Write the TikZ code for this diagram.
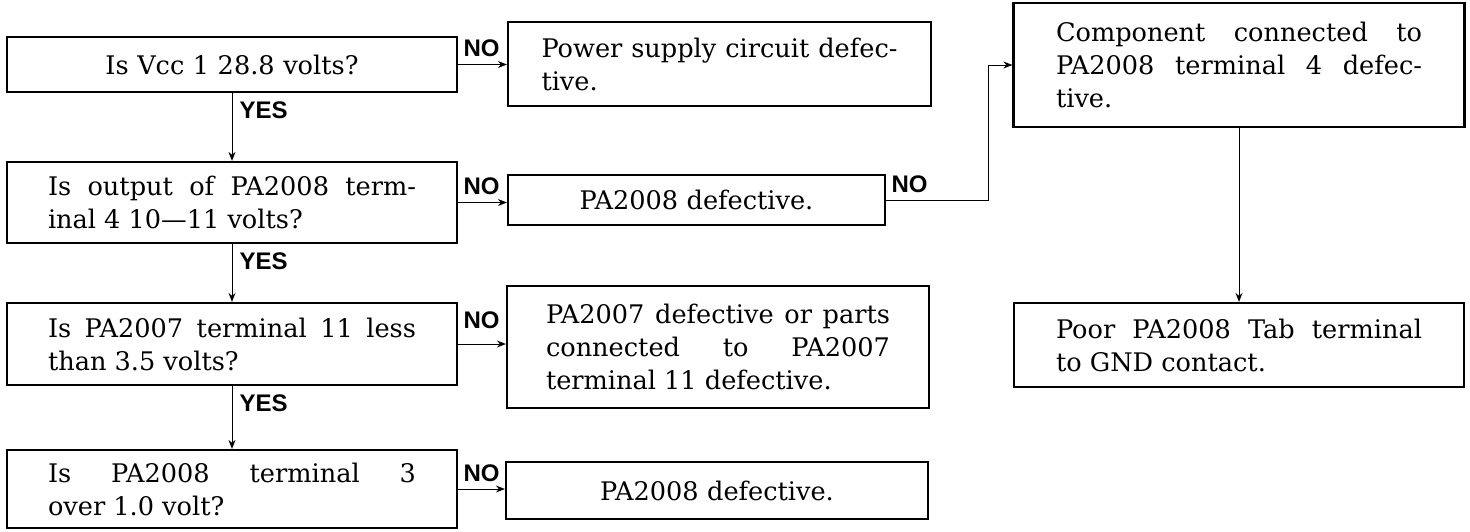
\documentclass[tikz,border=0pt]{standalone}
\usepackage{fontspec}
\setmainfont{DejaVu Serif}
\newfontfamily\labelfont{Liberation Sans}
\usetikzlibrary{arrows.meta}
\hbadness=10000

\begin{document}
\begin{tikzpicture}[x=0.5pt, y=-0.5pt, >={Stealth[length=4.5pt, width=3.5pt]},
        qbox/.style={draw=black, line width=1.1pt, inner sep=0pt, minimum width=225pt, text width=184pt, align=justify, font=\fontsize{12.8}{16.5}\selectfont},
        abox/.style={draw=black, line width=1.1pt, inner sep=0pt, align=justify, font=\fontsize{12.8}{16.5}\selectfont},
        link/.style={->, line width=0.5pt},
        yes/.style={anchor=north west, inner sep=0pt, xshift=3.5pt, yshift=-4pt, font=\labelfont\bfseries\fontsize{12}{12}\selectfont},
        no/.style={anchor=south west, inner sep=0pt, xshift=2.5pt, yshift=3.5pt, font=\labelfont\bfseries\fontsize{12}{12}\selectfont}]
        \useasboundingbox (0,0) rectangle (1470,531);

        % Question boxes
        \node[qbox, align=center, minimum height=27.5pt] (Q1) at (232,64.5) {Is Vcc 1 28.8 volts?};
        \node[qbox, minimum height=40.5pt] (Q2) at (232,202.5) {Is output of PA2008 term-\linebreak inal 4 10—11 volts?};
        \node[qbox, minimum height=41pt] (Q3) at (232,344) {Is PA2007 terminal 11 less\linebreak than 3.5 volts?};
        \node[qbox, minimum height=39pt] (Q4) at (232,489) {Is PA2008 terminal 3\linebreak over 1.0 volt?};

        % Answer boxes
        \node[abox, minimum width=211.5pt, minimum height=42pt, text width=178pt] (A1) at (719.5,64) {Power supply circuit defec-\linebreak tive.};
        \node[abox, align=center, minimum width=188.5pt, minimum height=25pt, text width=171.5pt] (A2) at (696.5,200) {PA2008 defective.};
        \node[abox, minimum width=211pt, minimum height=61pt, text width=172pt] (A3) at (718,347) {PA2007 defective or parts\linebreak connected to PA2007\linebreak terminal 11 defective.};
        \node[abox, align=center, minimum width=211pt, minimum height=28.5pt, text width=169pt] (A4) at (717,490.5) {PA2008 defective.};

        % Right column
        \node[abox, minimum width=225.5pt, minimum height=62pt, text width=183pt] (C) at (1239,65) {Component connected to\linebreak PA2008 terminal 4 defec-\linebreak tive.};
        \node[abox, minimum width=225pt, minimum height=42pt, text width=183pt] (P) at (1239,345) {Poor PA2008 Tab terminal\linebreak to GND contact.};
        \coordinate (elbow) at (988,0);

        % YES connections
        \draw[link] (Q1.south) -- (Q2.north) node[yes, pos=0] {YES};
        \draw[link] (Q2.south) -- (Q3.north) node[yes, pos=0] {YES};
        \draw[link] (Q3.south) -- (Q4.north) node[yes, pos=0] {YES};

        % NO connections
        \draw[link] (Q1.east) -- (Q1.east -| A1.west) node[no, pos=0] {NO};
        \draw[link] (Q2.east) -- (Q2.east -| A2.west) node[no, pos=0] {NO};
        \draw[link] (Q3.east) -- (Q3.east -| A3.west) node[no, pos=0, yshift=4pt] {NO};
        \draw[link] (Q4.east) -- (Q4.east -| A4.west) node[no, pos=0] {NO};
        \draw[link] (A2.east) -- (A2.east -| elbow) node[no, pos=0] {NO} |- (C.west);
        \draw[link] (C.south) -- (P.north);
\end{tikzpicture}
\end{document}
